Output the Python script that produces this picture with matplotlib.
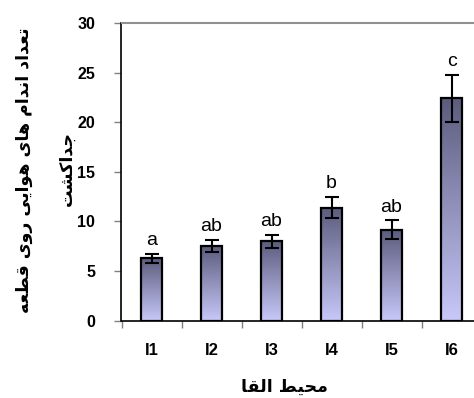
import numpy as np
import matplotlib
matplotlib.use("Agg")
import matplotlib.pyplot as plt
from matplotlib.colors import LinearSegmentedColormap

# ---- data ----
categories = ["I1", "I2", "I3", "I4", "I5", "I6"]
means = [6.3, 7.5, 8.0, 11.4, 9.15, 22.4]
errors = [0.45, 0.6, 0.65, 1.05, 0.95, 2.4]
letters = ["a", "ab", "ab", "b", "ab", "c"]
yticks = [0, 5, 10, 15, 20, 25, 30]
ylabel_line1 = "تعداد اندام های هوایی روی قطعه"
ylabel_line2 = "جداکشت"
xlabel_text = "محیط القا"

# ---- minimal Arabic/Persian shaping (presentation forms, visual order) ----
FORMS = {  # iso, fin, ini, med
    "ا": ("\uFE8D", "\uFE8E", None, None),
    "د": ("\uFEA9", "\uFEAA", None, None),
    "ر": ("\uFEAD", "\uFEAE", None, None),
    "و": ("\uFEED", "\uFEEE", None, None),
    "ت": ("\uFE95", "\uFE96", "\uFE97", "\uFE98"),
    "ج": ("\uFE9D", "\uFE9E", "\uFE9F", "\uFEA0"),
    "ح": ("\uFEA1", "\uFEA2", "\uFEA3", "\uFEA4"),
    "ش": ("\uFEB5", "\uFEB6", "\uFEB7", "\uFEB8"),
    "ط": ("\uFEC1", "\uFEC2", "\uFEC3", "\uFEC4"),
    "ع": ("\uFEC9", "\uFECA", "\uFECB", "\uFECC"),
    "ق": ("\uFED5", "\uFED6", "\uFED7", "\uFED8"),
    "ل": ("\uFEDD", "\uFEDE", "\uFEDF", "\uFEE0"),
    "م": ("\uFEE1", "\uFEE2", "\uFEE3", "\uFEE4"),
    "ن": ("\uFEE5", "\uFEE6", "\uFEE7", "\uFEE8"),
    "ه": ("\uFEE9", "\uFEEA", "\uFEEB", "\uFEEC"),
    "ی": ("\uFBFC", "\uFBFD", "\uFBFE", "\uFBFF"),
    "ک": ("\uFB8E", "\uFB8F", "\uFB90", "\uFB91"),
}


def shape(text):
    out = []
    n = len(text)
    for i, ch in enumerate(text):
        if ch not in FORMS:
            out.append(ch)
            continue
        prev = text[i - 1] if i > 0 else None
        nxt = text[i + 1] if i < n - 1 else None
        join_prev = prev in FORMS and FORMS[prev][2] is not None
        join_next = nxt in FORMS and FORMS[ch][2] is not None
        iso, fin, ini, med = FORMS[ch]
        if join_prev and join_next:
            out.append(med)
        elif join_prev:
            out.append(fin)
        elif join_next:
            out.append(ini)
        else:
            out.append(iso)
    return "".join(out)[::-1]


# ---- figure ----
fig = plt.figure(figsize=(4.74, 3.98), dpi=100)
ax = fig.add_axes([121.5 / 474, (398 - 320.7) / 398, 360 / 474, (320.7 - 23) / 398])

x = np.arange(len(categories))
bars = ax.bar(x, means, width=0.34, facecolor="none", edgecolor="black",
              linewidth=1.6, zorder=3)

cmap = LinearSegmentedColormap.from_list("g", ["#c8c8fa", "#5c5c7e"])
grad = np.linspace(0, 1, 256).reshape(-1, 1)
for b in bars:
    x0, w, h = b.get_x(), b.get_width(), b.get_height()
    im = ax.imshow(grad, cmap=cmap, aspect="auto", origin="lower",
                   extent=[x0, x0 + w, 0, h], zorder=2)
    im.set_clip_path(b)

ax.errorbar(x, means, yerr=errors, fmt="none", ecolor="black",
            elinewidth=1.5, capsize=5, capthick=1.5, zorder=4)

for xi, m, e, lab in zip(x, means, errors, letters):
    ax.text(xi, m + e + 0.9, lab, ha="center", va="baseline",
            fontsize=14, family="Liberation Sans", zorder=5)

ax.set_xlim(-0.5, len(categories) - 0.5)
ax.set_ylim(0, 30)
ax.set_yticks(yticks)
ax.set_yticklabels([str(v) for v in yticks], fontsize=11.5,
                   fontweight="bold", family="Liberation Sans")
ax.set_xticks(x)
ax.set_xticklabels(categories, fontsize=12, fontweight="bold",
                   family="Liberation Sans")
ax.set_xticks(np.arange(-0.5, len(categories), 1), minor=True)
ax.tick_params(axis="x", which="major", length=0, pad=16)
ax.tick_params(axis="x", which="minor", length=5, color="#808080", width=1)
ax.tick_params(axis="y", which="major", length=5, color="#808080",
               width=1, pad=14)

for s in ["left", "bottom"]:
    ax.spines[s].set_color("black")
    ax.spines[s].set_linewidth(1.2)
ax.spines["top"].set_color("#909090")
ax.spines["top"].set_linewidth(1.5)
ax.spines["right"].set_visible(False)
ax.set_zorder(1)

fig.text(24 / 474, 1 - 170 / 398, shape(ylabel_line1), rotation=90,
         ha="center", va="center", fontsize=12.5, fontweight="bold",
         family="DejaVu Sans")
fig.text(67 / 474, 1 - 168 / 398, shape(ylabel_line2), rotation=90,
         ha="center", va="center", fontsize=12.5, fontweight="bold",
         family="DejaVu Sans")
fig.text(284 / 474, 1 - 387 / 398, shape(xlabel_text), ha="center",
         va="center", fontsize=12.5, fontweight="bold", family="DejaVu Sans")

fig.savefig("out.png", dpi=100)
